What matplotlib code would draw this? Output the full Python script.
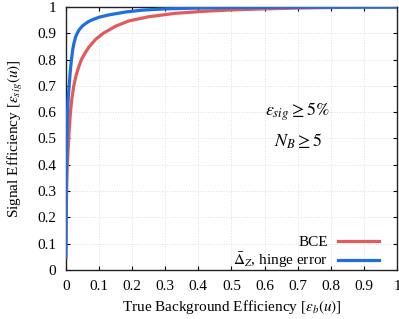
import matplotlib
matplotlib.use("Agg")
import matplotlib.pyplot as plt

plt.rcParams['font.family'] = ['Liberation Serif', 'DejaVu Serif']
plt.rcParams['mathtext.fontset'] = 'stix'

hinge_x = [0, 0.001, 0.002, 0.003, 0.005, 0.0075, 0.01, 0.013, 0.017, 0.021, 0.025, 0.03, 0.035, 0.04, 0.05, 0.065, 0.077, 0.1, 0.13, 0.18, 0.23, 0.3, 0.4, 0.5, 0.7, 1.0]
hinge_y = [0.05, 0.3, 0.42, 0.5, 0.6, 0.66, 0.7, 0.75, 0.8, 0.84, 0.865, 0.888, 0.902, 0.913, 0.928, 0.942, 0.95, 0.961, 0.97, 0.981, 0.988, 0.993, 0.996, 0.998, 0.999, 1.0]

bce_x = [0, 0.002, 0.004, 0.007, 0.01, 0.014, 0.018, 0.024, 0.03, 0.037, 0.047, 0.058, 0.07, 0.09, 0.113, 0.15, 0.19, 0.25, 0.33, 0.42, 0.5, 0.6, 0.7, 0.85, 1.0]
bce_y = [0.05, 0.28, 0.38, 0.46, 0.53, 0.6, 0.65, 0.7, 0.735, 0.765, 0.8, 0.825, 0.848, 0.877, 0.9, 0.927, 0.947, 0.963, 0.976, 0.984, 0.989, 0.993, 0.996, 0.999, 1.0]

xticks = [0, 0.1, 0.2, 0.3, 0.4, 0.5, 0.6, 0.7, 0.8, 0.9, 1]
yticks = [0, 0.1, 0.2, 0.3, 0.4, 0.5, 0.6, 0.7, 0.8, 0.9, 1]

fig = plt.figure(figsize=(3.99, 3.19), dpi=100)
ax = fig.add_axes([0.165, 0.154, 0.83, 0.824])

red = '#e35a5a'
blue = '#1d6fe0'
ax.plot(bce_x, bce_y, color=red, lw=2.3, label='BCE', zorder=3)
ax.plot(hinge_x, hinge_y, color=blue, lw=2.3, label=r'$\bar{\Delta}_Z$, hinge error', zorder=4)

ax.set_xlim(0, 1)
ax.set_ylim(0, 1)
ax.set_xticks(xticks)
ax.set_yticks(yticks)
ax.set_xticklabels([f'{t:g}' for t in xticks])
ax.set_yticklabels([f'{t:g}' for t in yticks])
ax.tick_params(direction='in', top=True, right=True, labelsize=11, length=3, width=0.8)
ax.tick_params(axis='x', pad=7)
ax.tick_params(axis='y', pad=7)
ax.grid(True, color='#dddddd', linestyle=':', linewidth=0.7)
for s in ax.spines.values():
    s.set_linewidth(1.0)
    s.set_color('#222222')

ax.set_xlabel(r'True Background Efficiency [$\varepsilon_b(u)$]', fontsize=11, labelpad=4)
ax.set_ylabel(r'Signal Efficiency [$\varepsilon_{sig}(u)$]', fontsize=11, labelpad=9)

ax.text(0.70, 0.60, r'$\varepsilon_{sig} \geq 5\%$', fontsize=13, ha='center', va='center', transform=ax.transAxes)
ax.text(0.70, 0.49, r'$N_B \geq 5$', fontsize=13, ha='center', va='center', transform=ax.transAxes)

leg = ax.legend(loc='lower right', bbox_to_anchor=(0.979, -0.042), frameon=False, fontsize=11,
                handlelength=2.7, markerfirst=False, borderaxespad=0.3, labelspacing=0.1,
                handletextpad=0.65)

fig.savefig('out.png', dpi=100)
